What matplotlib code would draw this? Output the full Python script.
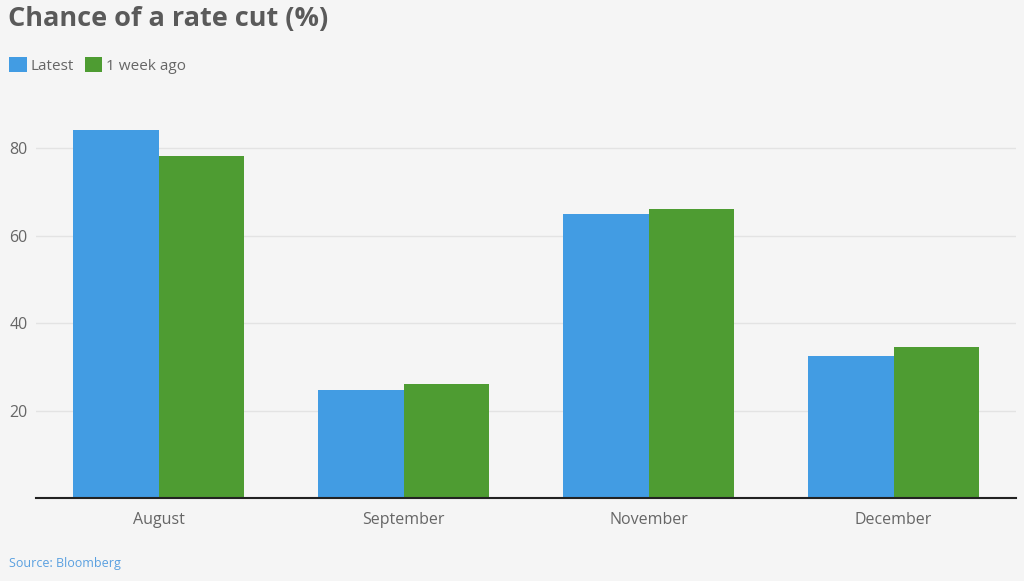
import matplotlib.pyplot as plt
import numpy as np

months = ["August", "September", "November", "December"]
latest = [84.1, 24.8, 65.0, 32.5]
week_ago = [78.3, 26.1, 66.2, 34.6]

BLUE = "#429ce3"
GREEN = "#4e9c32"
BG = "#f5f5f5"
TXT = "#666666"

plt.rcParams['font.family'] = ['Open Sans', 'DejaVu Sans']

fig = plt.figure(figsize=(10.24, 5.81), dpi=100, facecolor=BG)
ax = fig.add_axes([0.0352, 0.142, 0.957, 0.678], facecolor=BG)

x = np.arange(len(months))
w = 0.35
ax.bar(x - w / 2, latest, w, color=BLUE, label="Latest", zorder=3)
ax.bar(x + w / 2, week_ago, w, color=GREEN, label="1 week ago", zorder=3)

ax.set_xlim(-0.5, 3.5)
ax.set_ylim(0, 90)
ax.set_yticks([20, 40, 60, 80])
ax.set_xticks(x)
ax.set_xticklabels(months)
ax.grid(axis='y', color="#e3e3e3", linewidth=1, zorder=0)
ax.tick_params(axis='both', length=0, labelsize=11.5, labelcolor=TXT)
ax.tick_params(axis='x', pad=10)
ax.tick_params(axis='y', pad=6)
for s in ['top', 'right', 'left']:
    ax.spines[s].set_visible(False)
ax.spines['bottom'].set_color("#222222")
ax.spines['bottom'].set_linewidth(1.5)
ax.spines['bottom'].set_zorder(4)

fig.text(0.008, 0.99, "Chance of a rate cut (%)", fontsize=19.5, fontweight='bold',
         color="#5a5a5a", va='top', ha='left')
fig.legend(loc='upper left', bbox_to_anchor=(0.003, 0.912), frameon=False, ncol=2,
           handlelength=1.15, handleheight=1.15, handletextpad=0.25, columnspacing=0.7,
           fontsize=11, labelcolor=TXT, borderaxespad=0)
fig.text(0.009, 0.03, "Source: Bloomberg", fontsize=9, color="#5aa0e0",
         ha='left', va='center')

fig.savefig("out.png", dpi=100, facecolor=BG)
